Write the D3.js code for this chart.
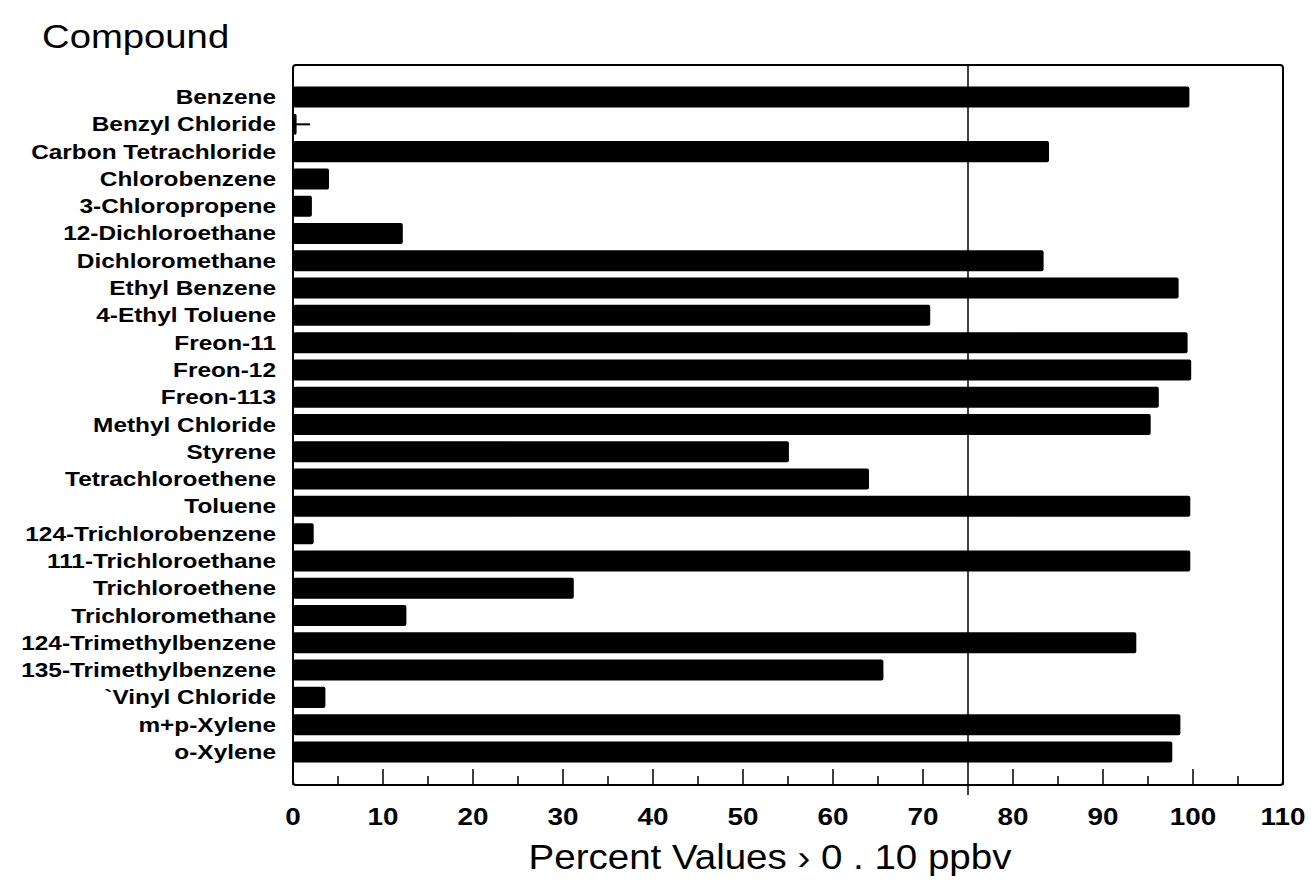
<!DOCTYPE html>
<html lang="en">
<head>
<meta charset="UTF-8">
<script src="https://d3js.org/d3.v7.min.js"></script>
<title>Compound</title>
<style>
  body { margin: 0; background: #fff; }
  text { font-family: "Liberation Sans", Arial, sans-serif; fill: #000; }
</style>
</head>
<body>
<div id="chart"></div>
<script>
    // compounds and percent of values above 0.10 ppbv
    const compounds = ['Benzene','Benzyl Chloride','Carbon Tetrachloride','Chlorobenzene','3-Chloropropene',
        '12-Dichloroethane','Dichloromethane','Ethyl Benzene','4-Ethyl Toluene','Freon-11','Freon-12',
        'Freon-113','Methyl Chloride','Styrene','Tetrachloroethene','Toluene','124-Trichlorobenzene',
        '111-Trichloroethane','Trichloroethene','Trichloromethane','124-Trimethylbenzene',
        '135-Trimethylbenzene','`Vinyl Chloride','m+p-Xylene','o-Xylene']
    const percents = [99.6, 0.4, 84.0, 4.0, 2.1, 12.2, 83.4, 98.4, 70.8, 99.4, 99.8, 96.2, 95.3, 55.1,
        64.0, 99.7, 2.3, 99.7, 31.2, 12.6, 93.7, 65.6, 3.6, 98.6, 97.7]
    // small whisker drawn on the Benzyl Chloride row
    const whiskers = [{name: 'Benzyl Chloride', value: 1.9}]
    const majorTicks = [0, 10, 20, 30, 40, 50, 60, 70, 80, 90, 100, 110]
    const minorTicks = [5, 15, 25, 35, 45, 55, 65, 85, 95, 105]
    const refLine = 75

    const W = 1311, H = 881
    const plot = {left: 293, right: 1283, top: 65, bottom: 785}

    const svg = d3.select('#chart').append('svg')
        .attr('width', W).attr('height', H)

    const x = d3.scaleLinear().domain([0, 110]).range([plot.left, plot.right])
    const y = d3.scaleBand().domain(compounds).range([83.4, 765.6]).paddingInner(0.23).paddingOuter(0.115)

    // bars
    const data = compounds.map((c, i) => ({name: c, value: percents[i]}))
    svg.append('g').selectAll('rect').data(data).enter().append('rect')
        .attr('x', x(0))
        .attr('y', d => y(d.name))
        .attr('width', d => x(d.value) - x(0))
        .attr('height', y.bandwidth())
        .attr('rx', 2)
        .attr('fill', '#000')

    svg.append('g').selectAll('line').data(whiskers).enter().append('line')
        .attr('x1', x(0)).attr('x2', d => x(d.value))
        .attr('y1', d => y(d.name) + y.bandwidth() / 2)
        .attr('y2', d => y(d.name) + y.bandwidth() / 2)
        .attr('stroke', '#000').attr('stroke-width', 2)

    // frame
    svg.append('rect')
        .attr('x', plot.left).attr('y', plot.top)
        .attr('width', plot.right - plot.left).attr('height', plot.bottom - plot.top)
        .attr('rx', 3)
        .attr('fill', 'none').attr('stroke', '#000').attr('stroke-width', 2)

    // reference line at 75
    svg.append('line')
        .attr('x1', x(refLine)).attr('x2', x(refLine))
        .attr('y1', plot.top).attr('y2', plot.bottom + 10)
        .attr('stroke', '#000').attr('stroke-width', 1.5)

    // ticks pointing inward from bottom
    svg.append('g').selectAll('line').data(majorTicks).enter().append('line')
        .attr('x1', d => x(d)).attr('x2', d => x(d))
        .attr('y1', plot.bottom).attr('y2', plot.bottom - 16)
        .attr('stroke', '#000').attr('stroke-width', 1.5)
    svg.append('g').selectAll('line').data(minorTicks).enter().append('line')
        .attr('x1', d => x(d)).attr('x2', d => x(d))
        .attr('y1', plot.bottom).attr('y2', plot.bottom - 9)
        .attr('stroke', '#000').attr('stroke-width', 1.5)

    // wide lettering: stretch text horizontally around its anchor
    function wideText(g, px, py, s, str, anchor, size, weight) {
        g.append('g')
            .attr('transform', 'translate(' + px + ',' + py + ') scale(' + s + ',1)')
            .append('text')
            .attr('text-anchor', anchor)
            .style('font-size', size + 'px').style('font-weight', weight)
            .text(str)
    }

    const tickG = svg.append('g')
    majorTicks.forEach(t => wideText(tickG, x(t), 825, 1.16, t, 'middle', 24, 'bold'))

    // category labels
    const labG = svg.append('g')
    compounds.forEach(c => wideText(labG, 276, y(c) + y.bandwidth() / 2 + 7, 1.22, c, 'end', 20, 'bold'))

    wideText(svg, 42, 48, 1.16, 'Compound', 'start', 33, 'normal')
    wideText(svg, 770, 869, 1.1, 'Percent Values › 0 . 10 ppbv', 'middle', 35, 'normal')
</script>
</body>
</html>
